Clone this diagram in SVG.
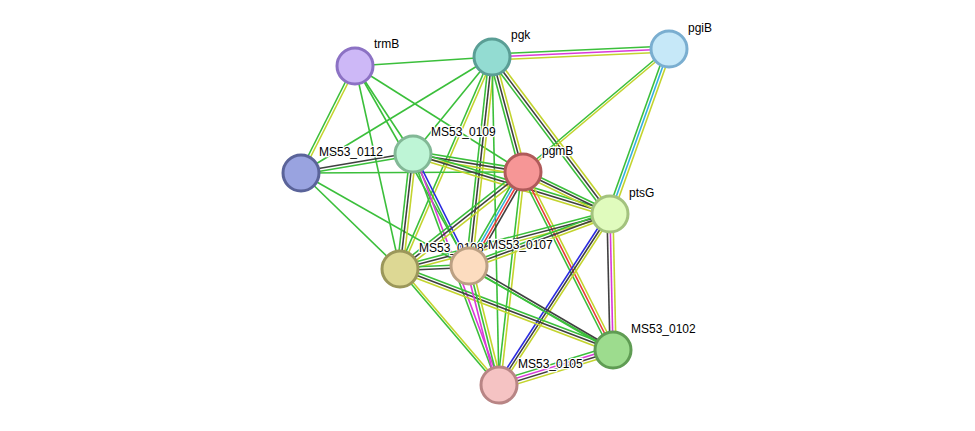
<svg xmlns="http://www.w3.org/2000/svg" xmlns:xlink="http://www.w3.org/1999/xlink" width="975" height="431" viewBox="0 0 975 431">
<style>
line{stroke-width:1.6}
.g{stroke:#3bbf3b}.y{stroke:#c3d42e}.k{stroke:#404040}.b{stroke:#2a2ae0}.m{stroke:#d93ad9}.r{stroke:#e83a3a}.c{stroke:#33b0e0}
circle{stroke-width:3}
text{font-family:"Liberation Sans",Arial,sans-serif;font-size:12px;fill:#000;paint-order:stroke;stroke:#fff;stroke-width:2.5px}
</style>
<defs>
<line id="e1" x1="355" y1="66" x2="492" y2="57"/>
<line id="e2" x1="355" y1="66" x2="301" y2="173"/>
<line id="e3" x1="355" y1="66" x2="413" y2="154"/>
<line id="e4" x1="355" y1="66" x2="523" y2="172"/>
<line id="e5" x1="355" y1="66" x2="400" y2="269"/>
<line id="e6" x1="355" y1="66" x2="469" y2="266"/>
<line id="e7" x1="492" y1="57" x2="669" y2="49"/>
<line id="e8" x1="492" y1="57" x2="301" y2="173"/>
<line id="e9" x1="492" y1="57" x2="413" y2="154"/>
<line id="e10" x1="492" y1="57" x2="523" y2="172"/>
<line id="e11" x1="492" y1="57" x2="610" y2="214"/>
<line id="e12" x1="492" y1="57" x2="400" y2="269"/>
<line id="e13" x1="492" y1="57" x2="469" y2="266"/>
<line id="e14" x1="669" y1="49" x2="523" y2="172"/>
<line id="e15" x1="669" y1="49" x2="610" y2="214"/>
<line id="e16" x1="301" y1="173" x2="413" y2="154"/>
<line id="e17" x1="301" y1="173" x2="523" y2="172"/>
<line id="e18" x1="301" y1="173" x2="400" y2="269"/>
<line id="e19" x1="301" y1="173" x2="613" y2="350"/>
<line id="e20" x1="413" y1="154" x2="523" y2="172"/>
<line id="e21" x1="413" y1="154" x2="610" y2="214"/>
<line id="e22" x1="413" y1="154" x2="400" y2="269"/>
<line id="e23" x1="413" y1="154" x2="469" y2="266"/>
<line id="e24" x1="413" y1="154" x2="499" y2="385"/>
<line id="e25" x1="523" y1="172" x2="610" y2="214"/>
<line id="e26" x1="523" y1="172" x2="400" y2="269"/>
<line id="e27" x1="523" y1="172" x2="469" y2="266"/>
<line id="e28" x1="523" y1="172" x2="499" y2="385"/>
<line id="e29" x1="523" y1="172" x2="613" y2="350"/>
<line id="e30" x1="610" y1="214" x2="400" y2="269"/>
<line id="e31" x1="610" y1="214" x2="469" y2="266"/>
<line id="e32" x1="610" y1="214" x2="499" y2="385"/>
<line id="e33" x1="610" y1="214" x2="613" y2="350"/>
<line id="e34" x1="400" y1="269" x2="469" y2="266"/>
<line id="e35" x1="400" y1="269" x2="499" y2="385"/>
<line id="e36" x1="400" y1="269" x2="613" y2="350"/>
<line id="e37" x1="469" y1="266" x2="499" y2="385"/>
<line id="e38" x1="469" y1="266" x2="613" y2="350"/>
<line id="e39" x1="499" y1="385" x2="613" y2="350"/>
<line id="e40" x1="492" y1="57" x2="499" y2="385"/>
</defs>
<g id="edges">
<use href="#e1" class="g"/>
<use href="#e2" class="g" transform="translate(-1.5,0)"/><use href="#e2" class="y" transform="translate(1.5,0)"/>
<use href="#e3" class="g"/><use href="#e4" class="g"/><use href="#e5" class="g"/><use href="#e6" class="g"/>
<use href="#e7" class="g" transform="translate(0,-3)"/><use href="#e7" class="m" transform="translate(0,0)"/><use href="#e7" class="y" transform="translate(0,3)"/>
<use href="#e8" class="g"/><use href="#e9" class="g"/>
<use href="#e10" class="g" transform="translate(-3,0)"/><use href="#e10" class="k"/><use href="#e10" class="y" transform="translate(3,0)"/>
<use href="#e11" class="g" transform="translate(-2.4,1.8)"/><use href="#e11" class="k"/><use href="#e11" class="y" transform="translate(2.4,-1.8)"/>
<use href="#e12" class="g" transform="translate(-1.5,0)"/><use href="#e12" class="y" transform="translate(1.5,0)"/>
<use href="#e13" class="g" transform="translate(-3,0)"/><use href="#e13" class="k"/><use href="#e13" class="y" transform="translate(3,0)"/>
<use href="#e40" class="g"/>
<use href="#e14" class="g" transform="translate(0,-1.5)"/><use href="#e14" class="y" transform="translate(0,1.5)"/>
<use href="#e15" class="g" transform="translate(-3,0)"/><use href="#e15" class="c"/><use href="#e15" class="y" transform="translate(3,0)"/>
<use href="#e16" class="k" transform="translate(0,-1.5)"/><use href="#e16" class="g" transform="translate(0,1.5)"/>
<use href="#e17" class="g"/><use href="#e18" class="g"/><use href="#e19" class="g"/>
<use href="#e20" class="g" transform="translate(0,-3)"/><use href="#e20" class="k"/><use href="#e20" class="y" transform="translate(0,3)"/>
<use href="#e21" class="g" transform="translate(0,-3)"/><use href="#e21" class="k"/><use href="#e21" class="y" transform="translate(0,3)"/>
<use href="#e22" class="g" transform="translate(-3,0)"/><use href="#e22" class="k"/><use href="#e22" class="y" transform="translate(3,0)"/>
<use href="#e23" class="b" transform="translate(1.5,0)"/><use href="#e23" class="g" transform="translate(-1.5,0)"/>
<use href="#e24" class="m" transform="translate(1.5,0)"/><use href="#e24" class="g" transform="translate(-1.5,0)"/>
<use href="#e25" class="g" transform="translate(0,-3)"/><use href="#e25" class="k"/><use href="#e25" class="y" transform="translate(0,3)"/>
<use href="#e26" class="g" transform="translate(-2,-2.5)"/><use href="#e26" class="k"/><use href="#e26" class="y" transform="translate(2,2.5)"/>
<use href="#e27" class="g" transform="translate(-4.5,0)"/><use href="#e27" class="c" transform="translate(-1.5,0)"/><use href="#e27" class="r" transform="translate(1.5,0)"/><use href="#e27" class="k" transform="translate(4.5,0)"/>
<use href="#e28" class="g" transform="translate(-1.5,0)"/><use href="#e28" class="y" transform="translate(1.5,0)"/>
<use href="#e29" class="g" transform="translate(-3,0)"/><use href="#e29" class="r"/><use href="#e29" class="y" transform="translate(3,0)"/>
<use href="#e30" class="g" transform="translate(0,-3)"/><use href="#e30" class="k"/><use href="#e30" class="y" transform="translate(0,3)"/>
<use href="#e31" class="g" transform="translate(0,-3)"/><use href="#e31" class="k"/><use href="#e31" class="y" transform="translate(0,3)"/>
<use href="#e32" class="b" transform="translate(-3,0)"/><use href="#e32" class="k"/><use href="#e32" class="y" transform="translate(3,0)"/>
<use href="#e33" class="k" transform="translate(-3,0)"/><use href="#e33" class="m"/><use href="#e33" class="y" transform="translate(3,0)"/>
<use href="#e34" class="g" transform="translate(0,-1.5)"/><use href="#e34" class="k" transform="translate(0,1.5)"/>
<use href="#e35" class="g" transform="translate(-1.5,0)"/><use href="#e35" class="y" transform="translate(1.5,0)"/>
<use href="#e36" class="g" transform="translate(0,-3)"/><use href="#e36" class="k"/><use href="#e36" class="y" transform="translate(0,3)"/>
<use href="#e37" class="m" transform="translate(-3,0)"/><use href="#e37" class="g"/><use href="#e37" class="y" transform="translate(3,0)"/>
<use href="#e38" class="k" transform="translate(0,-1.5)"/><use href="#e38" class="g" transform="translate(0,1.5)"/>
<use href="#e39" class="g" transform="translate(0,-4.5)"/><use href="#e39" class="m" transform="translate(0,-1.5)"/><use href="#e39" class="k" transform="translate(0,1.5)"/><use href="#e39" class="y" transform="translate(0,4.5)"/>
</g>
<g id="n-trmB"><circle cx="355" cy="66" r="18" fill="#cdb8f7" stroke="#8c72c4"/><text x="374" y="48">trmB</text></g>
<g id="n-pgk"><circle cx="492" cy="57" r="18" fill="#93dcd2" stroke="#5a9e95"/><text x="511" y="39">pgk</text></g>
<g id="n-pgiB"><circle cx="669" cy="49" r="18" fill="#c6e8f8" stroke="#7aaed0"/><text x="688" y="32">pgiB</text></g>
<g id="n-0109"><circle cx="413" cy="154" r="18" fill="#bef5d6" stroke="#82b896"/><text x="431" y="136">MS53_0109</text></g>
<g id="n-0112"><circle cx="301" cy="173" r="18" fill="#99a3e0" stroke="#5a6399"/><text x="319" y="156">MS53_0112</text></g>
<g id="n-pgmB"><circle cx="523" cy="172" r="18" fill="#f69696" stroke="#b05a5a"/><text x="542" y="155">pgmB</text></g>
<g id="n-ptsG"><circle cx="610" cy="214" r="18" fill="#e0fbbd" stroke="#a3c27e"/><text x="629" y="197">ptsG</text></g>
<g id="n-0108"><circle cx="400" cy="269" r="18" fill="#ddd894" stroke="#9b975a"/><text x="419" y="252">MS53_0108</text></g>
<g id="n-0107"><circle cx="469" cy="266" r="18" fill="#fcdcbf" stroke="#bba083"/><text x="488" y="249">MS53_0107</text></g>
<g id="n-0102"><circle cx="613" cy="350" r="18" fill="#9ddc8e" stroke="#5f9c53"/><text x="631" y="333">MS53_0102</text></g>
<g id="n-0105"><circle cx="499" cy="385" r="18" fill="#f5c3c3" stroke="#b88585"/><text x="518" y="368">MS53_0105</text></g>
</svg>
